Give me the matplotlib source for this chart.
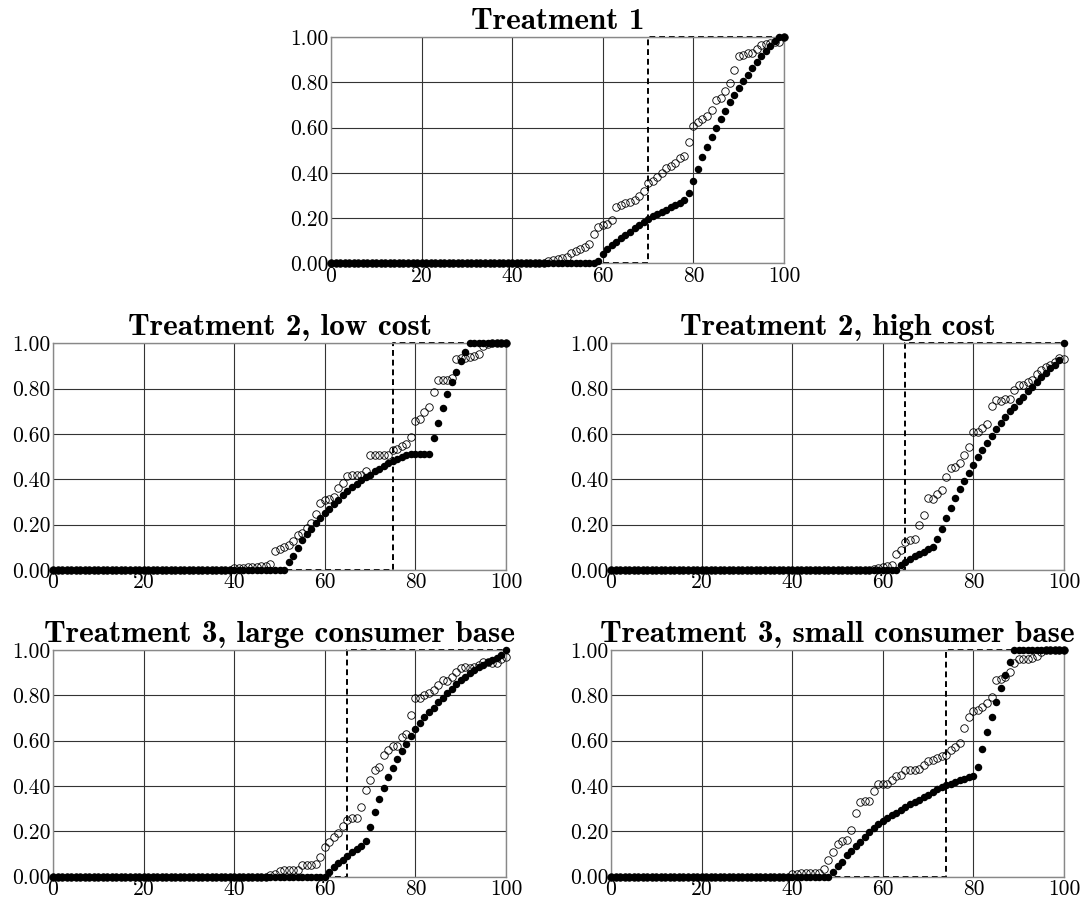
import matplotlib
matplotlib.use("Agg")
import matplotlib.pyplot as plt
import numpy as np

# Computer Modern look (fonts shipped with matplotlib)
plt.rcParams['font.family'] = 'cmr10'
plt.rcParams['mathtext.fontset'] = 'cm'
plt.rcParams['axes.formatter.use_mathtext'] = True
plt.rcParams['axes.unicode_minus'] = False

x = np.arange(101)

titles = ["Treatment 1",
          "Treatment 2, low cost", "Treatment 2, high cost",
          "Treatment 3, large consumer base", "Treatment 3, small consumer base"]

# x position where the dashed step jumps from 0 to 1
thresholds = [70, 75, 65, 65, 74]

# values for x = 0..100 (all zero before x = 40)
t1_filled = [0.0] * 40 + [
    0, 0, 0, 0, 0, 0, 0, 0, 0, 0,
    0, 0, 0, 0, 0, 0, 0, 0, 0, 0.01,
    0.04, 0.062, 0.08, 0.097, 0.112, 0.127, 0.141, 0.155, 0.169, 0.183,
    0.197, 0.208, 0.218, 0.228, 0.238, 0.248, 0.258, 0.268, 0.282, 0.31,
    0.364, 0.417, 0.469, 0.516, 0.56, 0.60, 0.639, 0.675, 0.712, 0.745,
    0.774, 0.804, 0.833, 0.863, 0.888, 0.915, 0.937, 0.96, 0.982, 1.0,
    1.0]
t1_open = [0.0] * 40 + [
    0, 0, 0, 0, 0, 0, 0, 0, 0.01, 0.017,
    0.02, 0.025, 0.03, 0.045, 0.055, 0.065, 0.075, 0.085, 0.132, 0.16,
    0.17, 0.175, 0.19, 0.25, 0.26, 0.265, 0.27, 0.28, 0.30, 0.32,
    0.355, 0.365, 0.38, 0.40, 0.42, 0.43, 0.445, 0.465, 0.475, 0.535,
    0.605, 0.625, 0.64, 0.652, 0.678, 0.72, 0.73, 0.76, 0.796, 0.853,
    0.915, 0.922, 0.928, 0.93, 0.945, 0.966, 0.97, 0.973, 0.98, 0.976,
    1.0]

t2low_filled = [0.0] * 40 + [
    0, 0, 0, 0, 0, 0, 0, 0, 0, 0,
    0, 0, 0.035, 0.062, 0.095, 0.13, 0.16, 0.182, 0.205, 0.228,
    0.25, 0.27, 0.29, 0.31, 0.33, 0.35, 0.365, 0.38, 0.395, 0.41,
    0.42, 0.435, 0.445, 0.458, 0.47, 0.48, 0.49, 0.498, 0.505, 0.51,
    0.51, 0.51, 0.51, 0.51, 0.58, 0.65, 0.715, 0.775, 0.83, 0.875,
    0.92, 0.962, 1, 1, 1, 1, 1, 1, 1, 1,
    1.0]
t2low_open = [0.0] * 40 + [
    0.008, 0.01, 0.01, 0.012, 0.012, 0.014, 0.015, 0.018, 0.027, 0.082,
    0.092, 0.1, 0.11, 0.125, 0.155, 0.162, 0.185, 0.205, 0.245, 0.293,
    0.308, 0.313, 0.32, 0.36, 0.385, 0.415, 0.417, 0.418, 0.42, 0.437,
    0.505, 0.505, 0.505, 0.505, 0.508, 0.53, 0.535, 0.545, 0.555, 0.585,
    0.655, 0.665, 0.695, 0.72, 0.785, 0.84, 0.84, 0.84, 0.845, 0.93,
    0.935, 0.937, 0.94, 0.945, 0.952, 0.99, 0.995, 1, 1, 1,
    1.0]

t2high_filled = [0.0] * 40 + [
    0, 0, 0, 0, 0, 0, 0, 0, 0, 0,
    0, 0, 0, 0, 0, 0, 0, 0, 0, 0,
    0, 0, 0, 0, 0.02, 0.035, 0.047, 0.06, 0.07, 0.08,
    0.09, 0.1, 0.135, 0.18, 0.228, 0.272, 0.315, 0.355, 0.39, 0.428,
    0.462, 0.5, 0.528, 0.56, 0.59, 0.62, 0.646, 0.673, 0.70, 0.72,
    0.745, 0.765, 0.79, 0.808, 0.83, 0.85, 0.87, 0.89, 0.905, 0.925,
    1.0]
t2high_open = [0.0] * 40 + [
    0, 0, 0, 0, 0, 0, 0, 0, 0, 0,
    0, 0, 0, 0, 0, 0, 0, 0, 0.005, 0.01,
    0.013, 0.016, 0.022, 0.068, 0.089, 0.123, 0.13, 0.135, 0.198, 0.242,
    0.318, 0.314, 0.336, 0.352, 0.41, 0.45, 0.455, 0.47, 0.507, 0.543,
    0.61, 0.61, 0.627, 0.642, 0.723, 0.749, 0.747, 0.752, 0.752, 0.794,
    0.816, 0.817, 0.83, 0.838, 0.864, 0.882, 0.897, 0.904, 0.919, 0.934,
    0.93]

t3large_filled = [0.0] * 40 + [
    0, 0, 0, 0, 0, 0, 0, 0, 0, 0,
    0, 0, 0, 0, 0, 0, 0, 0, 0, 0,
    0, 0.02, 0.04, 0.06, 0.075, 0.092, 0.107, 0.12, 0.135, 0.155,
    0.22, 0.285, 0.34, 0.39, 0.44, 0.48, 0.518, 0.555, 0.587, 0.62,
    0.65, 0.678, 0.705, 0.727, 0.746, 0.77, 0.79, 0.81, 0.83, 0.85,
    0.867, 0.882, 0.897, 0.912, 0.923, 0.934, 0.945, 0.956, 0.966, 0.978,
    1.0]
t3large_open = [0.0] * 40 + [
    0, 0, 0, 0, 0, 0, 0, 0, 0.005, 0.012,
    0.024, 0.027, 0.03, 0.03, 0.03, 0.049, 0.049, 0.049, 0.056, 0.088,
    0.13, 0.152, 0.174, 0.192, 0.221, 0.25, 0.26, 0.26, 0.307, 0.383,
    0.428, 0.469, 0.484, 0.538, 0.558, 0.577, 0.577, 0.614, 0.628, 0.712,
    0.789, 0.79, 0.8, 0.808, 0.823, 0.845, 0.867, 0.864, 0.879, 0.904,
    0.922, 0.923, 0.919, 0.923, 0.934, 0.949, 0.949, 0.941, 0.941, 0.959,
    0.97]

t3small_filled = [0.0] * 40 + [
    0, 0, 0, 0, 0, 0, 0, 0, 0, 0.02,
    0.045, 0.065, 0.093, 0.112, 0.134, 0.152, 0.174, 0.196, 0.215, 0.232,
    0.245, 0.257, 0.27, 0.282, 0.295, 0.307, 0.318, 0.328, 0.338, 0.35,
    0.36, 0.375, 0.385, 0.395, 0.403, 0.41, 0.418, 0.425, 0.432, 0.44,
    0.445, 0.485, 0.562, 0.639, 0.705, 0.771, 0.833, 0.89, 0.948, 1.0,
    1, 1, 1, 1, 1, 1, 1, 1, 1, 1,
    1.0]
t3small_open = [0.0] * 40 + [
    0.009, 0.012, 0.015, 0.016, 0.016, 0.016, 0.016, 0.034, 0.071, 0.108,
    0.145, 0.155, 0.162, 0.206, 0.28, 0.329, 0.334, 0.334, 0.378, 0.407,
    0.407, 0.407, 0.425, 0.442, 0.447, 0.472, 0.472, 0.472, 0.476, 0.491,
    0.51, 0.516, 0.521, 0.531, 0.535, 0.558, 0.572, 0.591, 0.656, 0.705,
    0.732, 0.735, 0.749, 0.767, 0.794, 0.867, 0.872, 0.882, 0.904, 0.941,
    0.959, 0.959, 0.959, 0.963, 0.973, 0.993, 1, 1, 1, 1,
    1.0]

filled = [t1_filled, t2low_filled, t2high_filled, t3large_filled, t3small_filled]
opened = [t1_open, t2low_open, t2high_open, t3large_open, t3small_open]

xticks = [0, 20, 40, 60, 80, 100]
yticks = [0.0, 0.2, 0.4, 0.6, 0.8, 1.0]

W, H = 1090, 897
fig = plt.figure(figsize=(W / 100, H / 100), dpi=100)

# panel placement in pixels: (left, top)
aw, ah = 453, 226.5
corners = [(331, 37), (53, 343.3), (611, 343.3), (53, 650), (611, 650)]

for i, (left, top) in enumerate(corners):
    ax = fig.add_axes([left / W, 1 - (top + ah) / H, aw / W, ah / H])

    # dashed step
    c = thresholds[i]
    ax.plot([0, c, c, 100], [0, 0, 1, 1], color='black', linestyle=(0, (3, 2)),
            linewidth=1.4, zorder=2, clip_on=False)

    ax.plot(x, opened[i], 'o', markersize=5.4, markerfacecolor='none',
            markeredgecolor='black', markeredgewidth=0.6, zorder=3, clip_on=False)
    ax.plot(x, filled[i], 'o', markersize=5.4, color='black',
            markeredgewidth=0, zorder=4, clip_on=False)

    ax.set_xlim(0, 100)
    ax.set_ylim(0, 1)
    ax.set_xticks(xticks)
    ax.set_xticklabels([str(t) for t in xticks])
    ax.set_yticks(yticks)
    ax.set_yticklabels(["%.2f" % t for t in yticks])
    ax.tick_params(length=0, pad=2, labelsize=15.5)
    ax.grid(True, color='#333333', linewidth=0.8)
    ax.set_axisbelow(True)
    for s in ax.spines.values():
        s.set_color('#888888')
        s.set_linewidth(1.0)

    ax.set_title(titles[i], fontsize=22.5, fontfamily='cmb10', pad=6)

fig.savefig("out.png", dpi=100)
